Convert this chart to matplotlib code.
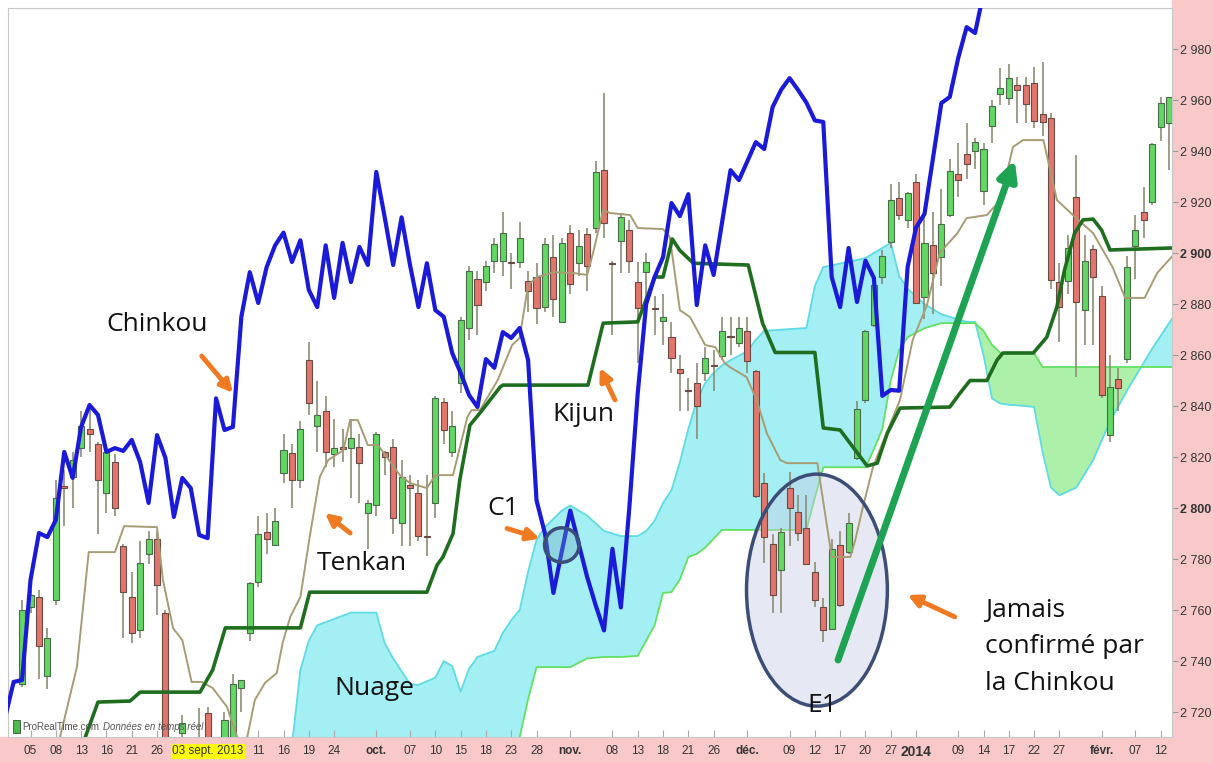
import numpy as np
import pandas as pd
import matplotlib
matplotlib.use('Agg')
import matplotlib.pyplot as plt
from matplotlib.patches import Ellipse, Rectangle

# trading days (index 0 = 05 Aug 2013)
holidays = ['2013-12-25', '2013-12-26', '2014-01-01']
dates = pd.bdate_range('2013-08-02', '2014-02-13')
dates = dates[~dates.isin(pd.to_datetime(holidays))]
day_pos = np.arange(len(dates)) - 1

tick_dates = ['2013-08-05', '2013-08-08', '2013-08-13', '2013-08-16', '2013-08-21', '2013-08-26',
              '2013-09-03', '2013-09-11', '2013-09-16', '2013-09-19', '2013-09-24', '2013-10-01',
              '2013-10-07', '2013-10-10', '2013-10-15', '2013-10-18', '2013-10-23', '2013-10-28',
              '2013-11-01', '2013-11-08', '2013-11-13', '2013-11-18', '2013-11-21', '2013-11-26',
              '2013-12-02', '2013-12-09', '2013-12-12', '2013-12-17', '2013-12-20', '2013-12-27',
              '2014-01-02', '2014-01-09', '2014-01-14', '2014-01-17', '2014-01-22', '2014-01-27',
              '2014-02-03', '2014-02-07', '2014-02-12']
tick_labels = ['05', '08', '13', '16', '21', '26', '03 sept. 2013', '11', '16', '19', '24', 'oct.',
               '07', '10', '15', '18', '23', '28', 'nov.', '08', '13', '18', '21', '26',
               'déc.', '09', '12', '17', '20', '27', '2014', '09', '14', '17', '22', '27',
               'févr.', '07', '12']
bold_labels = ['oct.', 'nov.', 'déc.', 'févr.', '2014']

# daily candles (02 Aug 2013 -> 13 Feb 2014)
opens = [2731, 2761, 2765, 2734, 2764, 2808.5, 2812, 2823.5, 2831, 2825, 2806, 2818, 2785, 2765,
         2752, 2782, 2788, 2759, 2702, 2711.8, 2696, 2705, 2719.6, 2700, 2705, 2705, 2729.5, 2751,
         2771, 2790.6, 2785.5, 2813.7, 2821.6, 2811, 2858, 2832, 2838, 2821, 2824, 2823.5, 2824,
         2798, 2801, 2822, 2824, 2794, 2809, 2806, 2789, 2802, 2841.6, 2822, 2849, 2870.6, 2890,
         2888.6, 2897, 2897, 2896.5, 2896.5, 2889, 2890.6, 2879, 2898.4, 2873, 2908, 2896, 2907.5,
         2910, 2932.5, 2896, 2904.7, 2909, 2888.6, 2892.5, 2878.3, 2873.3, 2867, 2854.5, 2846.3,
         2849, 2853, 2856, 2859.6, 2867.3, 2864.7, 2869.4, 2853.7, 2810, 2786, 2775.7, 2808, 2798.4,
         2792, 2775, 2761, 2752.5, 2785.5, 2782.7, 2819.6, 2842.4, 2871.8, 2890.6, 2904.3, 2921.6,
         2913, 2928, 2882.7, 2903, 2898.4, 2915, 2931, 2939, 2940, 2924.3, 2949.8, 2962.4, 2960.8,
         2966, 2966, 2966.7, 2954.5, 2953, 2888.6, 2889, 2922, 2877.6, 2901.6, 2883, 2828.6, 2850.6,
         2858.4, 2902.7, 2916, 2920, 2949.4, 2951]
highs = [2764, 2768, 2768, 2753, 2811, 2815, 2822, 2838, 2840, 2826, 2824, 2821, 2786, 2775,
         2787, 2791, 2791, 2760, 2706, 2719, 2707, 2721.6, 2722, 2709, 2720, 2735, 2732.5, 2771,
         2797, 2798, 2800, 2829, 2825, 2834, 2865, 2850, 2844, 2835, 2831, 2835, 2829,
         2803, 2830, 2822.5, 2827, 2819, 2813, 2811, 2813, 2844, 2843, 2838, 2875, 2895, 2893,
         2897, 2906, 2916, 2900, 2912, 2893, 2896, 2906, 2907, 2906, 2911, 2909, 2910,
         2936, 2962.7, 2897, 2915.6, 2913, 2896.5, 2900, 2883, 2884, 2873, 2860, 2851,
         2857, 2863, 2862, 2875, 2875, 2875, 2875, 2854, 2813.7, 2790, 2792, 2814, 2805,
         2805, 2779, 2764.7, 2788, 2791, 2798, 2842, 2870, 2888, 2901, 2927, 2928,
         2924, 2931, 2915, 2916, 2925, 2937, 2943, 2951, 2945, 2943, 2960, 2972.5, 2974,
         2969, 2969, 2973, 2975, 2955, 2896, 2907, 2938.4, 2907, 2903, 2887, 2860, 2855,
         2899, 2915, 2926, 2943, 2961, 2961]
lows = [2730, 2759, 2733, 2729, 2762, 2793, 2800, 2820, 2822, 2790, 2798, 2797, 2749, 2747,
        2749, 2778, 2758, 2695, 2688, 2708, 2690, 2698, 2700, 2695, 2702, 2702, 2720, 2748,
        2769, 2782, 2785, 2810, 2800, 2808, 2836.5, 2822, 2816, 2816, 2818, 2804, 2802,
        2784, 2797, 2813, 2790, 2785, 2785, 2787, 2781, 2796, 2825, 2820, 2845, 2866, 2868,
        2885, 2892, 2891, 2886, 2894, 2877, 2872, 2877, 2875, 2873, 2884, 2891, 2885,
        2908, 2906, 2868, 2892, 2892, 2857, 2876, 2868, 2864, 2853, 2838, 2838,
        2827, 2850, 2846, 2858, 2860, 2863, 2853, 2804, 2778.4, 2759, 2759, 2785, 2787,
        2778, 2761, 2747.5, 2752, 2761, 2782, 2819, 2841, 2871, 2888, 2902, 2913,
        2910, 2880, 2874, 2876, 2887, 2914, 2922, 2929, 2933, 2919, 2943, 2958, 2958,
        2951, 2951, 2949, 2946, 2886, 2865, 2884, 2851.4, 2864, 2864, 2843, 2826, 2838,
        2857, 2890, 2906, 2919, 2944, 2932.6]
closes = [2760, 2766, 2746, 2749, 2804, 2808, 2819, 2832, 2829, 2811, 2822, 2800, 2767, 2751,
          2778.5, 2788, 2770, 2700, 2692, 2715.7, 2702, 2702, 2705, 2705, 2717, 2731, 2732.5, 2770.5,
          2790, 2788, 2795, 2822.7, 2811, 2831, 2841, 2836.5, 2822, 2823.5, 2823, 2827.5, 2817.6,
          2802, 2829, 2820, 2796, 2812, 2808, 2789, 2788.6, 2843, 2830.6, 2832, 2873.7, 2893, 2879.6,
          2895, 2903.5, 2908, 2896, 2906, 2885, 2878.4, 2903.5, 2882, 2904, 2888, 2902.7, 2895,
          2931.8, 2911.8, 2895.7, 2914, 2896.9, 2878.4, 2896.5, 2878, 2875, 2859, 2853, 2846,
          2840, 2859, 2855.7, 2869.4, 2867, 2870.6, 2857.6, 2804.7, 2788.6, 2766, 2790.6, 2800, 2790.2,
          2778, 2764, 2752, 2784, 2762, 2794, 2839, 2869.4, 2887.5, 2898.8, 2920.8, 2915,
          2923.5, 2880.4, 2904, 2892, 2911.4, 2932, 2928.6, 2935, 2943.5, 2940.8, 2957.6, 2964.7, 2968.6,
          2964, 2958.4, 2951.8, 2951.4, 2889.4, 2878.8, 2902, 2880.8, 2897, 2890.6, 2844.3, 2847.5, 2847,
          2894.5, 2909, 2913, 2942.7, 2958.8, 2961]

# Chinkou (blue), one value per day starting at index -3
chinkou_start = -3
chinkou = [2718, 2731.8, 2732.5, 2771.8, 2790.2, 2788.6, 2795.3, 2822, 2811.8, 2831.8, 2840.4,
           2836.5, 2822, 2823.5, 2822.4, 2826.7, 2818, 2802, 2828.6, 2819.6, 2796.5, 2811.8,
           2807.8, 2789.4, 2788.2, 2843, 2830.6, 2831.8, 2875, 2892.5, 2880.4, 2894.5, 2903,
           2908, 2896.5, 2905, 2885.5, 2878.8, 2903, 2882.4, 2904, 2888.6, 2902.4, 2895.3,
           2931.8, 2914, 2895.3, 2914, 2895.3, 2878.8, 2896, 2877.6, 2875, 2860.8, 2853,
           2844.3, 2839.6, 2858.4, 2855, 2869, 2866.7, 2870.6, 2858, 2803, 2790, 2766.7,
           2783, 2799, 2786, 2773, 2762, 2752, 2784, 2761, 2800, 2845, 2880, 2890.6,
           2898.4, 2919.6, 2914.5, 2923.1, 2879.6, 2903, 2891.4, 2912, 2932.5, 2928.6, 2936,
           2943.5, 2940.8, 2957.3, 2964, 2968.6, 2964, 2959, 2952, 2951.4, 2890.6, 2878.8,
           2902, 2880.8, 2897, 2890.2, 2844, 2846.3, 2846, 2894.5, 2910, 2915.3, 2937,
           2958.8, 2961.2, 2976.5, 2988.6, 2986.3, 3002]

# Tenkan (thin tan line) vertices
tenkan_x = [2.9, 3.5, 5.5, 6.9, 10.0, 11.1, 15.0, 15.7, 16.9, 18.0, 19.1, 20.3, 21.6, 23.3, 24.5,
            25.1, 25.7, 26.6, 27.8, 29.2, 29.9, 30.8, 32.0, 33.1, 34.3, 35.3, 37.1, 37.9, 38.8,
            40.0, 41.2, 43.8, 45.0, 47.0, 48.0, 50.1, 51.8, 52.3, 53.3, 55.4, 57.1, 58.0, 59.0,
            60.1, 62.0, 64.3, 66.0, 66.7, 67.9, 68.7, 71.1, 72.0, 75.0, 75.8, 77.0, 78.2, 80.0,
            81.2, 82.3, 82.9, 84.9, 86.1, 87.3, 88.9, 89.7, 93.3, 95.0, 97.2, 97.8, 98.7, 99.9,
            101.5, 103.1, 104.6, 106.3, 107.8, 109.9, 111.0, 113.4, 115.0, 116.5, 117.7, 120.1,
            121.7, 123.6, 126.0, 128.3, 129.8, 132.1, 133.6, 135.5]
tenkan_y = [2701.2, 2710.2, 2737.6, 2782.7, 2782.7, 2792.9, 2792.5, 2771.8, 2752.9, 2748.2, 2731.8,
            2731.8, 2729.4, 2722, 2710.2, 2704.3, 2710.2, 2724.7, 2731.4, 2735.3, 2747.1, 2757.3,
            2765.1, 2788.6, 2812.2, 2818.8, 2822.7, 2834.5, 2834.5, 2824.7, 2824.7, 2812.9, 2809.8,
            2807.8, 2812.9, 2812.9, 2835.7, 2838.4, 2838.4, 2850.2, 2863.9, 2866.7, 2887.5, 2890.6,
            2892.5, 2892.2, 2891.4, 2900, 2916.9, 2915.7, 2914.9, 2909.8, 2909.4, 2906.3, 2877.6,
            2874.9, 2863.9, 2863.1, 2856.9, 2855.3, 2851.4, 2842.4, 2829.4, 2818.8, 2817.6, 2817.6,
            2780.8, 2780.8, 2787.5, 2800.4, 2816.1, 2829.4, 2842.4, 2865.9, 2879.6, 2900, 2907.8,
            2913.7, 2914.9, 2920.8, 2941.6, 2944.3, 2944.3, 2920.8, 2914.9, 2907.8, 2894.5, 2882.4,
            2882.4, 2892.2, 2899.2]

# Kijun (dark green line) vertices
kijun_x = [6.0, 6.5, 8.0, 11.8, 13.0, 20.1, 21.6, 23.1, 32.0, 33.1, 47.0, 48.2, 48.9, 50.1, 50.9,
           52.1, 53.3, 55.7, 56.0, 66.1, 67.9, 72.0, 74.0, 75.0, 76.1, 77.0, 78.6, 85.1, 86.8,
           88.3, 93.0, 94.0, 96.0, 97.5, 99.2, 100.4, 101.6, 103.1, 109.0, 110.2, 111.4, 113.4,
           114.6, 115.3, 118.9, 120.5, 121.7, 122.6, 123.8, 124.8, 126.0, 127.0, 128.0, 135.5]
kijun_y = [2701, 2710.2, 2723.9, 2724.3, 2727.8, 2727.8, 2736.5, 2753, 2753, 2767, 2767, 2777.6,
           2780.8, 2790, 2811, 2832.5, 2837.3, 2847.5, 2848.2, 2848.2, 2872.5, 2873, 2890.6,
           2890.6, 2905.5, 2901, 2896, 2895.3, 2872.5, 2861, 2861, 2831.4, 2830.6, 2824, 2816.5,
           2817.6, 2829.4, 2839.2, 2839.6, 2845, 2850, 2850, 2858, 2860.8, 2860.8, 2867, 2878.8,
           2893.3, 2907.8, 2913, 2913.3, 2909, 2901.2, 2902]

# Cloud (Nuage): span A (green edge) and span B (cyan edge)
cloud_x = [30, 31, 32, 33, 34, 36, 38, 41, 42, 43, 45, 46, 48, 49, 50, 51, 52, 53, 55, 56, 57,
           58, 59, 60, 61, 63, 64, 66, 68, 70, 72,
           73, 74, 75, 76, 77, 78, 79, 80, 81, 82, 83,
           85, 86, 87, 92, 93, 94, 99, 100, 101, 102, 103, 104, 106, 108,
           111, 112, 113, 114, 115, 116, 118, 119,
           120, 121, 122, 124, 126, 128, 130, 133, 135.5]
span_b = [2690, 2707, 2736.5, 2748, 2754, 2756.5, 2759, 2759, 2747, 2741, 2731, 2730.6, 2733.5,
          2740, 2738, 2728, 2737, 2741.6, 2744, 2751, 2756,
          2760, 2775, 2787.5, 2792.5, 2799, 2801, 2797, 2791, 2789, 2789,
          2791, 2795, 2802, 2807, 2818, 2831, 2842, 2849, 2853, 2856, 2858,
          2861.5, 2866, 2869.5, 2870.6, 2887, 2894.5, 2898, 2900, 2902, 2904, 2891, 2886, 2880, 2876,
          2873, 2873, 2860, 2843, 2841, 2840.5, 2840, 2839.6,
          2822, 2808, 2805, 2808, 2818.8, 2834, 2846, 2862.5, 2875]
span_a = ([2690] * 21 +
          [2710, 2725, 2737.6, 2737.6, 2737.6, 2737.6, 2741, 2741.6, 2741.6, 2742] +
          [2748, 2754, 2766.7, 2767, 2772, 2780.8, 2782, 2784.5, 2788, 2791.4, 2791.4] +
          [2791.4, 2791.4, 2791.4, 2791.4, 2804, 2816, 2816, 2823, 2831, 2850, 2862, 2867,
           2870.5, 2872.5] +
          [2872.5, 2872.5, 2869.5, 2864, 2860.8, 2860.8, 2860.8, 2860.8] +
          [2855.3] * 9)

# y ticks
price_ticks = list(range(2720, 2981, 20))

narrow = ['Liberation Sans Narrow', 'DejaVu Sans Condensed', 'Liberation Sans']

fig = plt.figure(figsize=(12.14, 7.63), dpi=100)
fig.patches.append(Rectangle((1172 / 1214, 0), 42 / 1214, 1, transform=fig.transFigure,
                             color='#f9c9c9', zorder=-5))
fig.patches.append(Rectangle((0, 0), 1, 26 / 763, transform=fig.transFigure,
                             color='#f9c9c9', zorder=-5))
ax = fig.add_axes([8 / 1214, 26 / 763, 1164 / 1214, 729 / 763])
ax.set_facecolor('white')

# cloud
cx = np.array(cloud_x)
sa = np.array(span_a)
sb = np.array(span_b)
ax.fill_between(cx, sa, sb, where=sb >= sa, interpolate=True, color='#a3eff4', lw=0, zorder=1)
ax.fill_between(cx, sa, sb, where=sa > sb, interpolate=True, color='#adf0aa', lw=0, zorder=1)
ax.plot(cx, sb, color='#5fdbe3', lw=1.3, zorder=2)
ax.plot(cx, sa, color='#62e062', lw=1.3, zorder=2)

# E1 ellipse background
ax.add_patch(Ellipse((93.25, 2767.8), 16.7, 91, facecolor='#c9cfe6', alpha=0.45,
                     edgecolor='none', zorder=2))

# candles
o = np.array(opens)
c = np.array(closes)
up = c >= o
ax.vlines(day_pos, lows, highs, color='#8c8c74', lw=1.2, zorder=3)
body_lo = np.minimum(o, c)
body_h = np.abs(c - o)
ax.bar(day_pos[up], body_h[up], bottom=body_lo[up], width=0.72, color='#62d862',
       edgecolor='#4a6a4a', linewidth=0.8, zorder=4)
ax.bar(day_pos[~up], body_h[~up], bottom=body_lo[~up], width=0.72, color='#e3766c',
       edgecolor='#6a4a44', linewidth=0.8, zorder=4)

# ichimoku lines
ax.plot(tenkan_x, tenkan_y, color='#a89c74', lw=1.4, zorder=5)
ax.plot(kijun_x, kijun_y, color='#1f6e1f', lw=2.6, zorder=5)
ch_x = np.arange(len(chinkou)) + chinkou_start
ax.plot(ch_x, chinkou, color='#1a1ad8', lw=3, zorder=6)

# circles
ax.add_patch(Ellipse((93.25, 2767.8), 16.7, 91, facecolor='none', edgecolor='#3c4e78',
                     lw=2.5, zorder=7))
ax.add_patch(Ellipse((63.0, 2785.5), 4.1, 13.5, facecolor='#6aa6c0', alpha=0.35,
                     edgecolor='none', zorder=7))
ax.add_patch(Ellipse((63.0, 2785.5), 4.1, 13.5, facecolor='none', edgecolor='#3c4e78',
                     lw=2.5, zorder=7))

# orange arrows
orange = dict(arrowstyle='-|>', color='#f07a22', lw=3.5, mutation_scale=18, shrinkA=0, shrinkB=0)
for tail, head in [((20.3, 2859.6), (24.0, 2845.1)), ((37.9, 2790.2), (34.9, 2798.0)),
                   ((69.3, 2842.4), (67.5, 2855.0)), ((56.5, 2792.0), (60.4, 2788.0)),
                   ((109.6, 2757.3), (104.0, 2765.9))]:
    ax.annotate('', xy=head, xytext=tail, arrowprops=orange, zorder=8)

# green trend arrow
ax.annotate('', xy=(116.7, 2936.5), xytext=(95.75, 2740.4),
            arrowprops=dict(arrowstyle='-|>', color='#1ea352', lw=5, mutation_scale=28,
                            shrinkA=0, shrinkB=0), zorder=8)

# annotation texts
tfont = dict(family=['Open Sans', 'DejaVu Sans'], fontsize=19, color='#111111', zorder=9)
ax.text(15.0, 2871.8, 'Chinkou', ha='center', va='center', **tfont)
ax.text(39.3, 2778.4, 'Tenkan', ha='center', va='center', **tfont)
ax.text(65.6, 2836.5, 'Kijun', ha='center', va='center', **tfont)
ax.text(40.8, 2729.4, 'Nuage', ha='center', va='center', **tfont)
ax.text(56.0, 2800.0, 'C1', ha='center', va='center', **tfont)
ax.text(93.85, 2722.7, 'E1', ha='center', va='center', **tfont)
ax.text(113.2, 2745.5, 'Jamais\nconfirmé par\nla Chinkou', ha='left', va='center',
        linespacing=1.6, **tfont)

# watermark
ax.add_patch(Rectangle((0.004, 0.006), 0.006, 0.018, transform=ax.transAxes,
                       facecolor='#4cbb4c', edgecolor='#335533', lw=0.6, zorder=9))
ax.text(0.012, 0.014, 'ProRealTime.com', transform=ax.transAxes, fontsize=7,
        color='#555555', va='center', family=narrow, zorder=9)
ax.text(0.082, 0.014, 'Données en temps réel', transform=ax.transAxes, fontsize=7,
        color='#555555', va='center', style='italic', family=narrow, zorder=9)

# axes styling
ax.set_xlim(-2.67, 135.35)
ax.set_ylim(2710.2, 2996.1)
for s in ax.spines.values():
    s.set_color('#c8c8c8')
    s.set_linewidth(0.8)

ax.yaxis.tick_right()
ax.set_yticks(price_ticks)
ax.set_yticklabels(['{:,}'.format(p).replace(',', ' ') for p in price_ticks])
ax.tick_params(axis='y', length=4, color='#999999', labelsize=9, labelcolor='#333333', pad=2)
for lab in ax.get_yticklabels():
    lab.set_family(narrow)
    if lab.get_text() in ('2 800', '2 900'):
        lab.set_fontweight('bold')

tick_pos = [day_pos[dates.get_loc(pd.Timestamp(d))] for d in tick_dates]
ax.set_xticks(tick_pos)
ax.set_xticklabels(tick_labels)
ax.tick_params(axis='x', direction='in', length=5, color='#aaaaaa', labelsize=8.5,
               labelcolor='#333333', pad=6)
for lab in ax.get_xticklabels():
    lab.set_family(narrow)
    if lab.get_text() in bold_labels:
        lab.set_fontweight('bold')
        if lab.get_text() == '2014':
            lab.set_fontsize(10)
    if lab.get_text() == '03 sept. 2013':
        lab.set_bbox(dict(facecolor='#ffff00', edgecolor='none', pad=1))

fig.savefig('out.png', dpi=100)
plt.close(fig)
